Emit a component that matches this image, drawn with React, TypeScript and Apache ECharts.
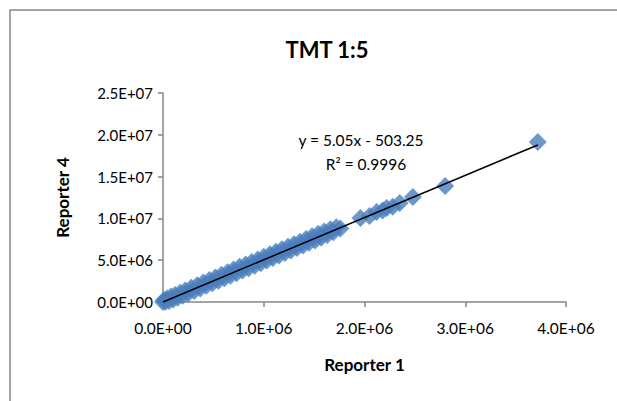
import React, { useEffect, useRef } from "react";
import * as echarts from "echarts";

const reporter1 = [
  0, 10000, 25000, 40000, 60000, 80000, 100000, 120000, 145000, 170000, 195000, 220000,
  250000, 280000, 310000, 340000, 370000, 400000, 430000, 460000, 490000, 520000, 550000,
  580000, 610000, 640000, 670000, 700000, 730000, 760000, 790000, 820000, 850000, 880000,
  910000, 940000, 970000, 1000000, 1030000, 1060000, 1090000, 1120000, 1150000, 1180000,
  1210000, 1240000, 1270000, 1300000, 1330000, 1360000, 1390000, 1420000, 1450000, 1480000,
  1510000, 1540000, 1570000, 1600000, 1630000, 1660000, 1690000, 1720000, 1760000, 1960000,
  2050000, 2120000, 2180000, 2220000, 2280000, 2350000, 2480000, 2800000, 3720000,
];
const reporter4 = [
  0, 250000, 20000, 420000, 120000, 650000, 300000, 850000, 520000, 1120000, 760000, 1380000,
  1020000, 1700000, 1330000, 2000000, 1620000, 2320000, 1930000, 2620000, 2230000, 2930000,
  2540000, 3250000, 2830000, 3560000, 3150000, 3880000, 3440000, 4230000, 3760000, 4500000,
  4050000, 4780000, 4350000, 5080000, 4650000, 5400000, 4950000, 5700000, 5250000, 6000000,
  5560000, 6300000, 5860000, 6620000, 6170000, 6920000, 6460000, 7220000, 6760000, 7550000,
  7080000, 7850000, 7370000, 8150000, 7700000, 8420000, 8000000, 8700000, 8350000, 8950000,
  8800000, 10050000, 10300000, 10770000, 10950000, 11240000, 11400000, 11840000, 12560000,
  13880000, 19140000,
];
const trendX = [0, 3720000];
const trendY = [-503.25, 18785496.75];
const titleText = "TMT 1:5";
const xName = "Reporter 1";
const yName = "Reporter 4";
const eqLine = "y = 5.05x - 503.25";
const r2Line = "R² = 0.9996";

const FONT = "Lato, 'Open Sans', sans-serif";

function fmt(v: number): string {
  const [m, e] = v.toExponential(1).split("e");
  const sign = e[0];
  const d = e.slice(1).padStart(2, "0");
  return m + "E" + sign + d;
}

export default function App() {
  const ref = useRef<HTMLDivElement>(null);
  useEffect(() => {
    document.body.style.margin = "0";
    const chart = echarts.init(ref.current!, null, { renderer: "svg" });
    const axisLine = { show: true, lineStyle: { color: "#868686", width: 1.5 } };
    chart.setOption({
      animation: false,
      backgroundColor: "#ffffff",
      textStyle: { fontFamily: FONT },
      title: {
        text: titleText,
        left: 322,
        textAlign: "center",
        top: 33,
        textStyle: { fontFamily: FONT, fontSize: 22, fontWeight: "bold", color: "#000" },
      },
      grid: { left: 163, right: 51, top: 93, bottom: 99 },
      xAxis: {
        type: "value",
        min: 0,
        max: 4000000,
        interval: 1000000,
        name: xName,
        nameLocation: "middle",
        nameGap: 54,
        nameTextStyle: { fontFamily: FONT, fontSize: 17, fontWeight: "bold", color: "#000" },
        axisLine,
        axisTick: { show: true, length: 5, lineStyle: { color: "#868686", width: 1.5 } },
        splitLine: { show: false },
        axisLabel: { formatter: fmt, fontFamily: FONT, fontSize: 15.5, color: "#000", margin: 18 },
      },
      yAxis: {
        type: "value",
        min: 0,
        max: 25000000,
        interval: 5000000,
        name: yName,
        nameLocation: "middle",
        nameGap: 92,
        nameTextStyle: { fontFamily: FONT, fontSize: 17, fontWeight: "bold", color: "#000" },
        axisLine,
        axisTick: { show: true, length: 5, lineStyle: { color: "#868686", width: 1.5 } },
        splitLine: { show: false },
        axisLabel: { formatter: fmt, fontFamily: FONT, fontSize: 15, color: "#000", margin: 10 },
      },
      series: [
        {
          type: "scatter",
          symbol: "diamond",
          symbolSize: 18,
          clip: false,
          itemStyle: { color: "#4a7ebb" },
          data: reporter1.map((x, i) => [x, reporter4[i]]),
          z: 2,
        },
        {
          type: "line",
          showSymbol: false,
          symbol: "none",
          clip: false,
          lineStyle: { color: "#000", width: 1.5 },
          data: trendX.map((x, i) => [x, trendY[i]]),
          z: 3,
        },
      ],
      graphic: [
        {
          type: "rect",
          shape: { x: 10, y: 10, width: 640, height: 420 },
          style: { fill: "none", stroke: "#868686", lineWidth: 1.5 },
          silent: true,
        },
        {
          type: "text",
          x: 361,
          y: 140,
          style: {
            text: eqLine,
            fontFamily: FONT,
            fontSize: 15.5,
            fill: "#000",
            align: "center",
            verticalAlign: "middle",
          },
        },
        {
          type: "text",
          x: 366,
          y: 164,
          style: {
            text: r2Line,
            fontFamily: FONT,
            fontSize: 15.5,
            fill: "#000",
            align: "center",
            verticalAlign: "middle",
          },
        },
      ],
    });
    return () => chart.dispose();
  }, []);
  return <div ref={ref} style={{ width: 617, height: 401 }} />;
}
